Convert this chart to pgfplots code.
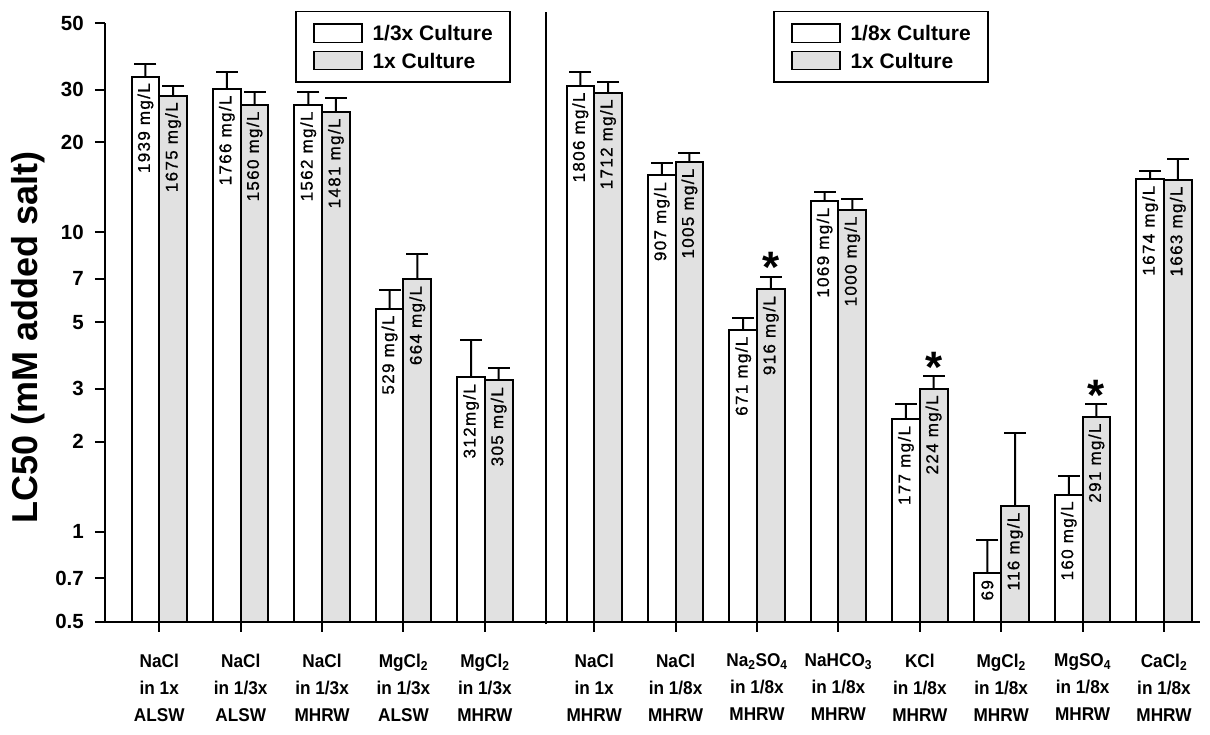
\documentclass[border=0pt]{standalone}
\usepackage{fontspec}
\setmainfont{Liberation Sans}
\newfontfamily\narrowfont[FakeStretch=0.93]{Liberation Sans}
\newfontfamily\labelfont[FakeBold=0.8, LetterSpace=8]{Liberation Sans}
\usepackage{pgfplots}
\usepackage{pgfplotstable}
\pgfplotsset{compat=1.18}
\definecolor{barg}{RGB}{225,225,225}

\pgfplotstableread[col sep=comma]{
x,y,e,lab
0.667,33.2,3.3,1939 mg/L
1.667,30.2,4.1,1766 mg/L
2.667,26.7,2.7,1562 mg/L
3.667,5.556,0.87,529 mg/L
4.667,3.277,1.1,312mg/L
}\leftA
\pgfplotstableread[col sep=comma]{
x,y,e,lab
0.667,28.66,2.24,1675 mg/L
1.667,26.7,2.8,1560 mg/L
2.667,25.3,2.9,1481 mg/L
3.667,6.97,1.53,664 mg/L
4.667,3.20,0.33,305 mg/L
}\leftB
\pgfplotstableread[col sep=comma]{
x,y,e,lab
6.01,30.9,3.4,1806 mg/L
7.01,15.52,1.48,907 mg/L
8.01,4.72,0.44,671 mg/L
9.01,12.72,0.88,1069 mg/L
10.01,2.374,0.29,177 mg/L
11.01,0.725,0.215,69
12.01,1.329,0.20,160 mg/L
13.01,15.08,0.92,1674 mg/L
}\rightA
\pgfplotstableread[col sep=comma]{
x,y,e,lab
6.01,29.3,2.6,1712 mg/L
7.01,17.2,1.2,1005 mg/L
8.01,6.45,0.65,916 mg/L
9.01,11.9,1.0,1000 mg/L
10.01,3.005,0.30,224 mg/L
11.01,1.218,0.91,116 mg/L
12.01,2.418,0.25,291 mg/L
13.01,14.98,2.62,1663 mg/L
}\rightB

\tikzset{
  mylegend/.style={
    anchor=north west, draw=black, line width=1.5pt, fill=white,
    font=\fontsize{21}{25}\selectfont\bfseries,
    inner xsep=17pt, inner ysep=11.5pt,
    nodes={inner sep=0pt, text depth=0pt},
    row sep=7.4pt,
    every odd column/.append style={column sep=10pt},
  },
  barlabel/.style={font=\labelfont\fontsize{17}{19}\selectfont, rotate=90, anchor=east, inner sep=0pt, xshift=-6.5pt, black},
}
\pgfplotsset{
  stem/.style={ybar, bar width=0.0246, bar shift=#1, fill=black, draw=none, forget plot},
  bars/.style 2 args={ybar, bar width=0.34, bar shift=#1, draw=black, line width=2pt, fill=#2},
  caps/.style={only marks, mark=-, mark size=11pt, mark options={line width=2pt, draw=black}, forget plot},
}
\newcommand\whitelegend{\draw[line width=1.5pt, draw=black, fill=white] (0pt,-9.2pt) rectangle (48pt,9.2pt);}
\newcommand\graylegend{\draw[line width=1.5pt, draw=black, fill=barg] (0pt,-9.2pt) rectangle (48pt,9.2pt);}

\begin{document}
\begin{tikzpicture}
\begin{axis}[
  at={(0,0)}, anchor=south west,
  scale only axis, width=1095pt, height=598.4pt,
  xmin=0, xmax=13.452, ymin=0.5, ymax=50,
  ymode=log, log origin y=infty, clip=false,
  legend cell align=left,
  axis lines*=left,
  axis line style={line width=2pt},
  tick style={line width=2pt, black},
  major tick length=10pt, tick align=outside,
  ytick={0.5,0.7,1,2,3,5,7,10,20,30,50},
  yticklabels={0.5,0.7,1,2,3,5,7,10,20,30,50},
  minor ytick={}, yminorticks=false,
  yticklabel style={font=\fontsize{20.5}{24}\selectfont\bfseries, inner sep=0pt, xshift=-11pt},
  xtick={0.667,1.667,2.667,3.667,4.667,6.01,7.01,8.01,9.01,10.01,11.01,12.01,13.01},
  xticklabels={{NaCl\\in 1x\\ALSW},{NaCl\\in 1/3x\\ALSW},{NaCl\\in 1/3x\\MHRW},{MgCl\textsubscript{2}\\in 1/3x\\ALSW},{MgCl\textsubscript{2}\\in 1/3x\\MHRW},
    {NaCl\\in 1x\\MHRW},{NaCl\\in 1/8x\\MHRW},{Na\textsubscript{2}SO\textsubscript{4}\\in 1/8x\\MHRW},{NaHCO\textsubscript{3}\\in 1/8x\\MHRW},{KCl\\in 1/8x\\MHRW},
    {MgCl\textsubscript{2}\\in 1/8x\\MHRW},{MgSO\textsubscript{4}\\in 1/8x\\MHRW},{CaCl\textsubscript{2}\\in 1/8x\\MHRW}},
  xticklabel style={font=\narrowfont\fontsize{18.5}{27}\selectfont\bfseries, align=center, inner sep=0pt, anchor=north, yshift=-22pt},
  legend style={mylegend, at={(rel axis cs:0.1738,1.0206)}},
]
\addplot[stem=-0.17] table[x=x, y expr=\thisrow{y}+\thisrow{e}]{\leftA};
\addplot[stem=0.17] table[x=x, y expr=\thisrow{y}+\thisrow{e}]{\leftB};
\addplot[bars={-0.17}{white}, legend image code/.code={\whitelegend}] table[x=x, y=y]{\leftA};
\addplot[bars={0.17}{barg}, legend image code/.code={\graylegend}] table[x=x, y=y]{\leftB};
\addplot[caps] table[x expr=\thisrow{x}-0.17, y expr=\thisrow{y}+\thisrow{e}]{\leftA};
\addplot[caps] table[x expr=\thisrow{x}+0.17, y expr=\thisrow{y}+\thisrow{e}]{\leftB};
\legend{1/3x Culture\hspace{4pt}, 1x Culture}
\draw[line width=2pt] (axis cs:5.414,0.49) -- (axis cs:5.414,54.7);
\node[rotate=90, anchor=base, font=\fontsize{36}{40}\selectfont\bfseries] at ([xshift=-67pt]rel axis cs:0,0.475) {LC50 (mM added salt)};
\end{axis}

\begin{axis}[
  at={(0,0)}, anchor=south west,
  scale only axis, width=1095pt, height=598.4pt,
  xmin=0, xmax=13.452, ymin=0.5, ymax=50,
  ymode=log, log origin y=infty, clip=false,
  legend cell align=left,
  hide axis,
  legend style={mylegend, at={(rel axis cs:0.6103,1.0206)}},
]
\addplot[stem=-0.17] table[x=x, y expr=\thisrow{y}+\thisrow{e}]{\rightA};
\addplot[stem=0.17] table[x=x, y expr=\thisrow{y}+\thisrow{e}]{\rightB};
\addplot[bars={-0.17}{white}, legend image code/.code={\whitelegend}] table[x=x, y=y]{\rightA};
\addplot[bars={0.17}{barg}, legend image code/.code={\graylegend}] table[x=x, y=y]{\rightB};
\addplot[caps] table[x expr=\thisrow{x}-0.17, y expr=\thisrow{y}+\thisrow{e}]{\rightA};
\addplot[caps] table[x expr=\thisrow{x}+0.17, y expr=\thisrow{y}+\thisrow{e}]{\rightB};
\legend{1/8x Culture\hspace{4pt}, 1x Culture}
\end{axis}

\begin{axis}[
  at={(0,0)}, anchor=south west,
  scale only axis, width=1095pt, height=598.4pt,
  xmin=0, xmax=13.452, ymin=0.5, ymax=50,
  ymode=log, log origin y=infty, clip=false,
  ybar=0pt, bar width=0.34, hide axis]
\addplot[draw=none, fill=none, bar shift=-0.17, nodes near coords, point meta=explicit symbolic,
  every node near coord/.append style={barlabel}] table[x=x, y=y, meta=lab]{\leftA};
\addplot[draw=none, fill=none, bar shift=0.17, nodes near coords, point meta=explicit symbolic,
  every node near coord/.append style={barlabel}] table[x=x, y=y, meta=lab]{\leftB};
\addplot[draw=none, fill=none, bar shift=-0.17, nodes near coords, point meta=explicit symbolic,
  every node near coord/.append style={barlabel}] table[x=x, y=y, meta=lab]{\rightA};
\addplot[draw=none, fill=none, bar shift=0.17, nodes near coords, point meta=explicit symbolic,
  every node near coord/.append style={barlabel}] table[x=x, y=y, meta=lab]{\rightB};
\addplot[draw=none, fill=none, bar shift=0.17, nodes near coords={*},
  every node near coord/.append style={font=\fontsize{44}{44}\selectfont\bfseries, anchor=base, yshift=-6pt, inner sep=0pt, rotate=0}]
  coordinates {(8.01,7.1) (10.01,3.31) (12.01,2.67)};
\end{axis}

\pgfresetboundingbox
\useasboundingbox (-105pt,-113.3pt) rectangle (1105pt,621.7pt);
\end{tikzpicture}
\end{document}
